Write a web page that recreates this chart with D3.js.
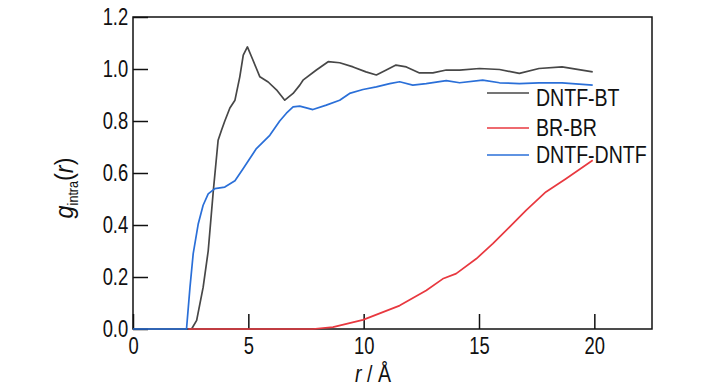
<!DOCTYPE html>
<html><head><meta charset="UTF-8">
  <title>g_intra(r)</title>
  <script src="https://d3js.org/d3.v7.min.js"></script>
  <style>
    body { margin: 0; background: #fff; }
    text { font-family: "Liberation Sans", Arial, sans-serif; fill: #111; }
  </style>
</head>
<body>
  <svg width="728" height="390"></svg>
  <script>
    // values
    const seriesNames = ["DNTF-BT", "BR-BR", "DNTF-DNTF"]
    const seriesColors = ["#474747", "#e8383f", "#2a6fd8"]

    const btR = [2.54, 2.76, 3.04, 3.26, 3.48, 3.69, 3.84, 3.98, 4.2, 4.42, 4.63, 4.78, 4.96, 5.14, 5.5, 5.86, 6.22, 6.58, 6.94, 7.23, 7.37, 7.95, 8.46, 8.96, 9.54, 10.1, 10.55, 10.98, 11.4, 11.85, 12.42, 13.0, 13.58, 14.16, 15.02, 15.89, 16.75, 17.6, 18.6, 19.93]
    const btG = [0, 0.033, 0.16, 0.30, 0.53, 0.726, 0.765, 0.80, 0.85, 0.88, 0.97, 1.053, 1.085, 1.047, 0.97, 0.95, 0.92, 0.88, 0.906, 0.938, 0.957, 0.996, 1.028, 1.024, 1.008, 0.989, 0.977, 0.996, 1.015, 1.008, 0.985, 0.985, 0.996, 0.996, 1.002, 0.998, 0.983, 1.002, 1.008, 0.989]

    const brR = [2.4, 7.8, 8.67, 9.97, 11.56, 12.71, 13.43, 14.01, 14.88, 15.6, 16.32, 17.04, 17.9, 18.77, 19.93]
    const brG = [0, 0, 0.007, 0.035, 0.09, 0.148, 0.193, 0.213, 0.27, 0.328, 0.392, 0.456, 0.527, 0.578, 0.649]

    const dnR = [0, 2.32, 2.47, 2.61, 2.83, 3.04, 3.26, 3.55, 3.98, 4.42, 4.78, 5.35, 5.93, 6.36, 6.65, 6.94, 7.23, 7.8, 8.38, 8.96, 9.39, 9.97, 10.55, 11.13, 11.56, 12.13, 12.71, 13.58, 14.16, 15.16, 15.89, 16.75, 17.6, 18.6, 19.93]
    const dnG = [0, 0, 0.16, 0.29, 0.405, 0.476, 0.52, 0.54, 0.546, 0.57, 0.617, 0.694, 0.745, 0.80, 0.83, 0.854, 0.857, 0.844, 0.861, 0.88, 0.906, 0.921, 0.931, 0.944, 0.951, 0.938, 0.944, 0.955, 0.947, 0.957, 0.947, 0.944, 0.947, 0.947, 0.938]

    const xTicks = [0, 5, 10, 15, 20]
    const yTicks = [0, 0.2, 0.4, 0.6, 0.8, 1.0, 1.2]

    const series = [[btR, btG], [brR, brG], [dnR, dnG]].map((s, i) => ({
      name: seriesNames[i],
      color: seriesColors[i],
      points: s[0].map((r, j) => [r, s[1][j]])
    }))

    // layout
    const margin = {top: 17, right: 76, bottom: 61, left: 133},
          width = 728 - margin.left - margin.right,
          height = 390 - margin.top - margin.bottom;

    const svg = d3.select("svg")
      .append("g")
        .attr("transform", "translate(" + margin.left + "," + margin.top + ")");

    const x = d3.scaleLinear().domain([0, 22.5]).range([0, width])
    const y = d3.scaleLinear().domain([0, 1.2]).range([height, 0])

    // axes, ticks pointing inward
    const xAxis = svg.append("g")
        .attr("transform", "translate(0," + height + ")")
        .call(d3.axisBottom(x).tickValues(xTicks).tickFormat(d3.format("d"))
              .tickSizeInner(-15).tickSizeOuter(0).tickPadding(9))
    const yAxis = svg.append("g")
        .call(d3.axisLeft(y).tickValues(yTicks).tickFormat(d3.format(".1f"))
              .tickSizeInner(-15).tickSizeOuter(0).tickPadding(6))

    for (const ax of [xAxis, yAxis]) {
      ax.select(".domain").remove()
      ax.selectAll("line").attr("stroke", "#111").attr("stroke-width", 1.5)
      ax.selectAll("text")
        .style("font-family", "'Liberation Sans', Arial, sans-serif")
        .style("font-size", "23px")
        .attr("fill", "#111")
        .attr("transform", "scale(0.8,1)")
    }

    // frame
    svg.append("rect")
        .attr("width", width)
        .attr("height", height)
        .attr("fill", "none")
        .attr("stroke", "#111")
        .attr("stroke-width", 1.5)

    // curves
    const line = d3.line().x(d => x(d[0])).y(d => y(d[1]))
    svg.selectAll("path.curve")
        .data(series)
        .join("path")
          .attr("class", "curve")
          .attr("d", d => line(d.points))
          .attr("fill", "none")
          .attr("stroke", d => d.color)
          .attr("stroke-width", 1.7)
          .attr("stroke-linejoin", "round")

    // legend
    const legendY = [81, 111, 138]
    const leg = svg.selectAll("g.leg")
        .data(series)
        .join("g")
          .attr("class", "leg")
          .attr("transform", (d, i) => "translate(354," + legendY[i] + ")")
    leg.append("line")
        .attr("x1", 0).attr("x2", 42)
        .attr("y1", (d, i) => i == 0 ? -5 : 0).attr("y2", (d, i) => i == 0 ? -5 : 0)
        .attr("stroke", d => d.color)
        .attr("stroke-width", 1.6)
    leg.append("text")
        .attr("transform", "translate(49,0) scale(0.85,1)")
        .attr("dy", "0.36em")
        .style("font-size", "23px")
        .text(d => d.name)

    // axis titles
    const xt = svg.append("text")
        .attr("transform", "translate(240," + (height + 53) + ") scale(0.85,1)")
        .attr("text-anchor", "middle")
        .style("font-size", "23px")
    xt.append("tspan").style("font-style", "italic").text("r")
    xt.append("tspan").text(" / Å")

    const yt = svg.append("text")
        .attr("transform", "translate(-60,171) rotate(-90) scale(0.9,1)")
        .attr("text-anchor", "middle")
        .style("font-size", "26px")
    yt.append("tspan").style("font-style", "italic").text("g")
    yt.append("tspan").style("font-size", "14px").attr("dy", 5).text("intra")
    yt.append("tspan").attr("dy", -5).text("(")
    yt.append("tspan").style("font-style", "italic").text("r")
    yt.append("tspan").text(")")
  </script>
</body></html>
